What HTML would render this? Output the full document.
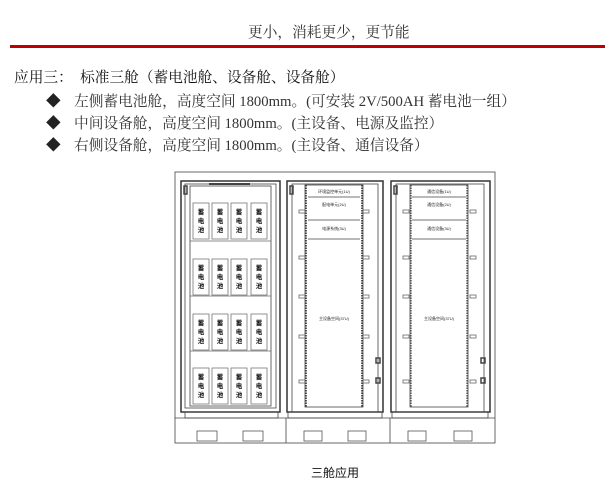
<!DOCTYPE html>
<html><head><meta charset="utf-8"><style>
body{margin:0;background:#fff;width:616px;height:499px;overflow:hidden;font-family:"Liberation Serif","Noto Serif CJK SC",serif;color:#222}
.t{position:absolute;font-size:14.7px;white-space:nowrap;line-height:16px}
</style></head><body>
<div class="t" style="left:248px;top:25px;color:#333">更小，消耗更少，更节能</div>
<div style="position:absolute;left:10px;top:45px;width:595px;height:3px;background:#c00000"></div>
<div class="t" style="left:14px;top:70px;color:#111">应用三：&nbsp; 标准三舱（蓄电池舱、设备舱、设备舱）</div>
<div class="t" style="left:46px;top:94px">◆</div><div class="t" style="left:74px;top:94px;color:#333">左侧蓄电池舱，高度空间 1800mm。(可安装 2V/500AH 蓄电池一组）</div>
<div class="t" style="left:46px;top:116px">◆</div><div class="t" style="left:74px;top:116px;color:#333">中间设备舱，高度空间 1800mm。(主设备、电源及监控）</div>
<div class="t" style="left:46px;top:138px">◆</div><div class="t" style="left:74px;top:138px;color:#333">右侧设备舱，高度空间 1800mm。(主设备、通信设备）</div>
<svg style="position:absolute;left:0;top:0" width="616" height="499" fill="none" stroke="#444" stroke-width="0.8">
<rect x="175" y="172" width="320" height="271"/>
<line x1="175" y1="418" x2="495" y2="418"/>
<line x1="286" y1="418" x2="286" y2="443"/><line x1="390" y1="418" x2="390" y2="443"/>
<g stroke="#555"><rect x="197" y="431" width="20" height="10"/><rect x="243" y="431" width="20" height="10"/><rect x="304" y="431" width="18" height="10"/><rect x="348" y="431" width="18" height="10"/><rect x="408" y="431" width="18" height="10"/><rect x="454" y="431" width="18" height="10"/></g>
<rect x="181" y="181" width="99" height="231" stroke-width="1.5" stroke="#333"/>
<rect x="185" y="184" width="91" height="224"/>
<rect x="190" y="186" width="81" height="220"/>
<rect x="185" y="412" width="93" height="6"/>
<line x1="209" y1="184" x2="250" y2="184" stroke-width="2"/>
<rect x="184" y="186" width="3" height="8" stroke-width="1.5"/>
<g stroke="#666"><line x1="190" y1="241" x2="271" y2="241"/><line x1="190" y1="296" x2="271" y2="296"/><line x1="190" y1="351" x2="271" y2="351"/></g>
<g stroke="#777">
<rect x="193" y="203" width="16" height="36"/><rect x="212" y="203" width="16" height="36"/><rect x="231" y="203" width="16" height="36"/><rect x="251" y="203" width="16" height="36"/>
<rect x="193" y="259" width="16" height="36"/><rect x="212" y="259" width="16" height="36"/><rect x="231" y="259" width="16" height="36"/><rect x="251" y="259" width="16" height="36"/>
<rect x="193" y="314" width="16" height="36"/><rect x="212" y="314" width="16" height="36"/><rect x="231" y="314" width="16" height="36"/><rect x="251" y="314" width="16" height="36"/>
<rect x="193" y="368" width="16" height="36"/><rect x="212" y="368" width="16" height="36"/><rect x="231" y="368" width="16" height="36"/><rect x="251" y="368" width="16" height="36"/>
</g>
<g fill="#111" stroke="none" font-size="6.5" font-weight="bold" font-family="Liberation Sans, Noto Sans CJK SC, sans-serif" text-anchor="middle">
<text x="201" y="214">蓄</text><text x="201" y="223">电</text><text x="201" y="232">池</text>
<text x="220" y="214">蓄</text><text x="220" y="223">电</text><text x="220" y="232">池</text>
<text x="239" y="214">蓄</text><text x="239" y="223">电</text><text x="239" y="232">池</text>
<text x="259" y="214">蓄</text><text x="259" y="223">电</text><text x="259" y="232">池</text>
<text x="201" y="270">蓄</text><text x="201" y="279">电</text><text x="201" y="288">池</text>
<text x="220" y="270">蓄</text><text x="220" y="279">电</text><text x="220" y="288">池</text>
<text x="239" y="270">蓄</text><text x="239" y="279">电</text><text x="239" y="288">池</text>
<text x="259" y="270">蓄</text><text x="259" y="279">电</text><text x="259" y="288">池</text>
<text x="201" y="325">蓄</text><text x="201" y="334">电</text><text x="201" y="343">池</text>
<text x="220" y="325">蓄</text><text x="220" y="334">电</text><text x="220" y="343">池</text>
<text x="239" y="325">蓄</text><text x="239" y="334">电</text><text x="239" y="343">池</text>
<text x="259" y="325">蓄</text><text x="259" y="334">电</text><text x="259" y="343">池</text>
<text x="201" y="379">蓄</text><text x="201" y="388">电</text><text x="201" y="397">池</text>
<text x="220" y="379">蓄</text><text x="220" y="388">电</text><text x="220" y="397">池</text>
<text x="239" y="379">蓄</text><text x="239" y="388">电</text><text x="239" y="397">池</text>
<text x="259" y="379">蓄</text><text x="259" y="388">电</text><text x="259" y="397">池</text>
</g>
<rect x="287" y="181" width="96" height="231" stroke-width="1.5" stroke="#333"/>
<rect x="292" y="184" width="86" height="228"/>
<rect x="288" y="412" width="94" height="6"/>
<rect x="305" y="185" width="58" height="222"/>
<line x1="306" y1="185" x2="306" y2="407" stroke-dasharray="1.5,1" stroke-width="1.6" stroke="#333"/>
<line x1="362" y1="185" x2="362" y2="407" stroke-dasharray="1.5,1" stroke-width="1.6" stroke="#333"/>
<line x1="308" y1="197" x2="360" y2="197"/><line x1="308" y1="220" x2="360" y2="220"/><line x1="308" y1="239" x2="360" y2="239"/>
<rect x="290" y="186" width="3" height="8" stroke-width="1.5"/>
<g stroke="#666"><rect x="299" y="210" width="6" height="3"/><rect x="299" y="256" width="6" height="3"/><rect x="299" y="295" width="6" height="3"/><rect x="299" y="335" width="6" height="3"/><rect x="299" y="380" width="6" height="3"/>
<rect x="363" y="210" width="6" height="3"/><rect x="363" y="256" width="6" height="3"/><rect x="363" y="295" width="6" height="3"/><rect x="363" y="335" width="6" height="3"/><rect x="363" y="380" width="6" height="3"/></g>
<rect x="376" y="358" width="4" height="5" stroke-width="1.5"/><rect x="376" y="378" width="4" height="5" stroke-width="1.5"/>
<rect x="391" y="181" width="99" height="231" stroke-width="1.5" stroke="#333"/>
<rect x="396" y="184" width="88" height="228"/>
<rect x="392" y="412" width="96" height="6"/>
<rect x="410" y="185" width="58" height="222"/>
<line x1="411" y1="185" x2="411" y2="407" stroke-dasharray="1.5,1" stroke-width="1.2"/>
<line x1="467" y1="185" x2="467" y2="407" stroke-dasharray="1.5,1" stroke-width="1.2"/>
<line x1="412" y1="197" x2="466" y2="197"/><line x1="412" y1="220" x2="466" y2="220"/><line x1="412" y1="239" x2="466" y2="239"/>
<rect x="394" y="186" width="3" height="8" stroke-width="1.5"/>
<g stroke="#666"><rect x="403" y="210" width="6" height="3"/><rect x="403" y="256" width="6" height="3"/><rect x="403" y="295" width="6" height="3"/><rect x="403" y="335" width="6" height="3"/><rect x="403" y="380" width="6" height="3"/>
<rect x="470" y="210" width="6" height="3"/><rect x="470" y="256" width="6" height="3"/><rect x="470" y="295" width="6" height="3"/><rect x="470" y="335" width="6" height="3"/><rect x="470" y="380" width="6" height="3"/></g>
<rect x="481" y="358" width="4" height="5" stroke-width="1.5"/><rect x="481" y="378" width="4" height="5" stroke-width="1.5"/>
<g fill="#222" stroke="none" font-size="4" font-family="Liberation Sans, Noto Sans CJK SC, sans-serif" text-anchor="middle">
<text x="334" y="193">环境监控单元(1U)</text><text x="334" y="206">配电单元(2U)</text><text x="334" y="230">电源系统(3U)</text><text x="334" y="320">主设备空间(37U)</text>
<text x="439" y="193">通信设备(1U)</text><text x="439" y="206">通信设备(2U)</text><text x="439" y="230">通信设备(3U)</text><text x="439" y="320">主设备空间(37U)</text>
</g>
<text x="335" y="477" fill="#111" stroke="none" font-size="12" text-anchor="middle" font-family="Liberation Sans, Noto Sans CJK SC, sans-serif">三舱应用</text>
</svg>
</body></html>
